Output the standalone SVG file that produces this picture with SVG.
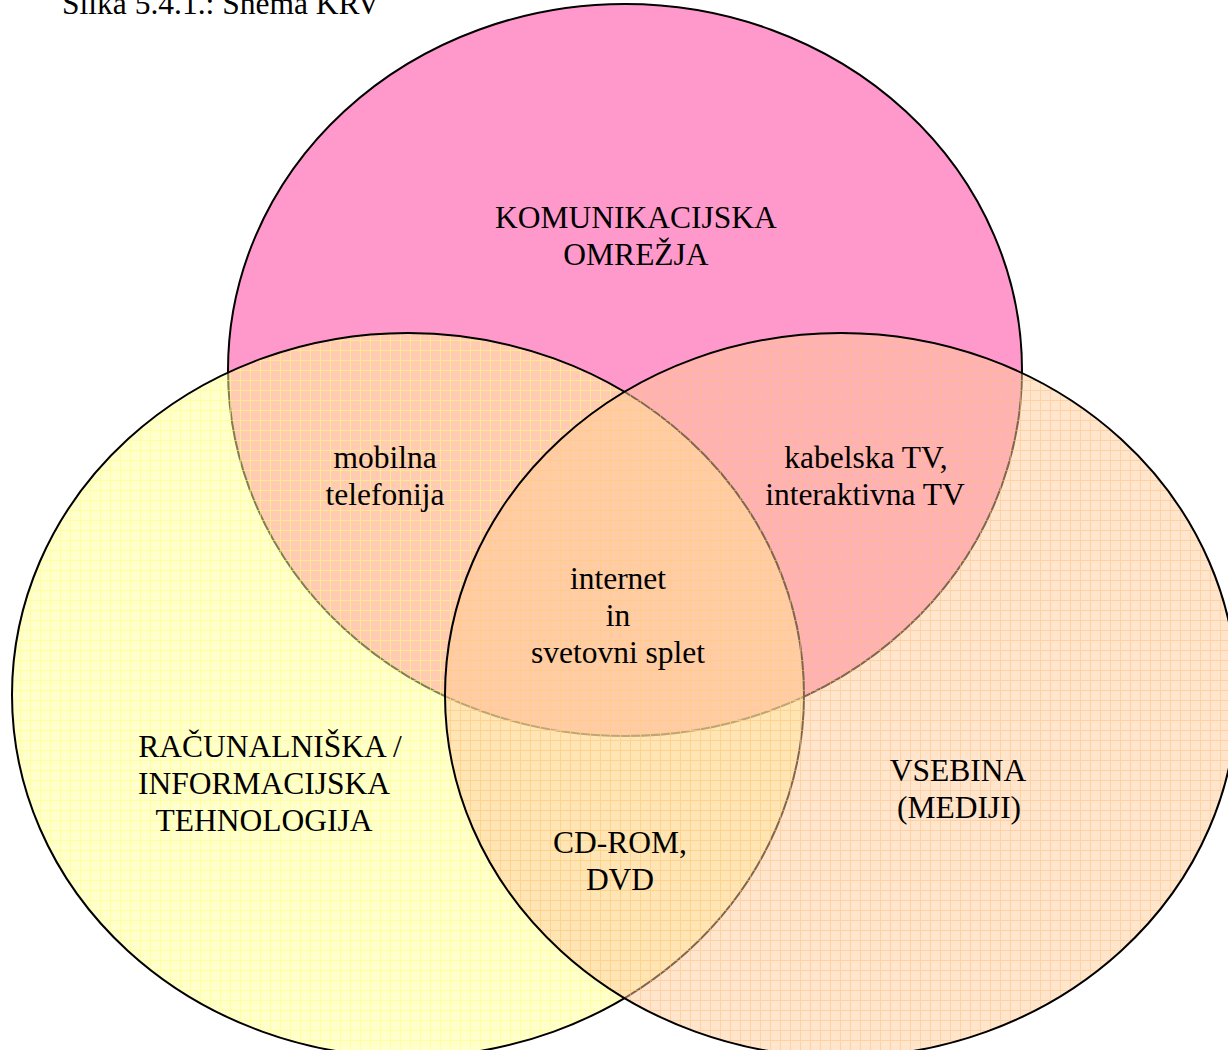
<svg xmlns="http://www.w3.org/2000/svg" width="1228" height="1050" viewBox="0 0 1228 1050">
<style>
.t{font-family:"Liberation Serif","Times New Roman",serif;font-size:31.5px;fill:#000;text-anchor:middle}
.ttl{font-family:"Liberation Serif","Times New Roman",serif;font-size:31.5px;fill:#000}
.outline{stroke:#000;stroke-width:2}
</style>
<defs>
<pattern id="gy" width="10" height="10" patternUnits="userSpaceOnUse">
<rect width="10" height="10" fill="#FFFF99" fill-opacity="0.5"/>
<rect x="0" y="0" width="10" height="1" fill="#FFFF77" fill-opacity="0.55"/>
<rect x="0" y="1" width="1" height="9" fill="#FFFF77" fill-opacity="0.55"/>
</pattern>
<pattern id="gp" width="10" height="10" patternUnits="userSpaceOnUse">
<rect width="10" height="10" fill="#FFCC99" fill-opacity="0.5"/>
<rect x="0" y="0" width="10" height="1" fill="#FFC080" fill-opacity="0.5"/>
<rect x="0" y="1" width="1" height="9" fill="#FFC080" fill-opacity="0.5"/>
</pattern>
</defs>
<rect width="1228" height="1050" fill="#fff"/>
<g id="title"><text class="ttl" x="62" y="14">Slika 5.4.1.: Shema KRV</text></g>
<g id="komunikacijska">
<ellipse class="outline" cx="625" cy="370" rx="397" ry="366" fill="#FF99CC"/>
</g>
<g id="racunalniska">
<ellipse class="outline" cx="408" cy="695" rx="396" ry="362" fill="url(#gy)"/>
</g>
<g id="vsebina">
<ellipse class="outline" cx="841" cy="695" rx="396" ry="362" fill="url(#gp)"/>
</g>
<g id="connectors"></g>
<g id="label-komunikacijska">
<text class="t" x="636" y="228">KOMUNIKACIJSKA</text>
<text class="t" x="636" y="265">OMREŽJA</text>
</g>
<g id="label-mobilna">
<text class="t" x="385" y="468">mobilna</text>
<text class="t" x="385" y="505">telefonija</text>
</g>
<g id="label-kabelska">
<text class="t" x="866" y="468">kabelska TV,</text>
<text class="t" x="865" y="505">interaktivna TV</text>
</g>
<g id="label-internet">
<text class="t" x="618" y="589">internet</text>
<text class="t" x="618" y="626">in</text>
<text class="t" x="618" y="663">svetovni splet</text>
</g>
<g id="label-racunalniska">
<text class="t" x="270" y="757">RAČUNALNIŠKA /</text>
<text class="t" x="264" y="794">INFORMACIJSKA</text>
<text class="t" x="264" y="831">TEHNOLOGIJA</text>
</g>
<g id="label-vsebina">
<text class="t" x="958" y="781">VSEBINA</text>
<text class="t" x="959" y="818">(MEDIJI)</text>
</g>
<g id="label-cdrom">
<text class="t" x="620" y="853">CD-ROM,</text>
<text class="t" x="620" y="890">DVD</text>
</g>
</svg>
